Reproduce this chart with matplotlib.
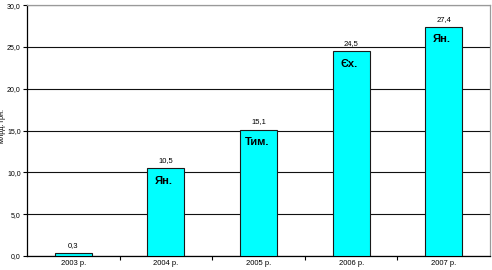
import matplotlib
matplotlib.use("Agg")
import matplotlib.pyplot as plt
from matplotlib.ticker import FuncFormatter, FixedLocator

categories = ["2003 р.", "2004 р.", "2005 р.", "2006 р.", "2007 р."]
values = [0.3, 10.5, 15.1, 24.5, 27.4]
inner_labels = ["", "Ян.", "Тим.", "Єх.", "Ян."]
yticks = [0, 5, 10, 15, 20, 25, 30]

plt.rcParams['font.family'] = ['Liberation Sans', 'DejaVu Sans']

fig = plt.figure(figsize=(4.92, 2.70), dpi=100)
ax = fig.add_axes([0.055, 0.052, 0.941, 0.929])

x = list(range(len(categories)))
ax.bar(x, values, width=0.4, color="#00FFFF", edgecolor="#1a1a1a", linewidth=0.8, zorder=3)

for xi, v in zip(x, values):
    ax.text(xi, v + 0.5, f"{v:.1f}".replace(".", ","), ha="center", va="bottom", fontsize=5.5, zorder=4)
for xi, v, lab in zip(x, values, inner_labels):
    if lab:
        ax.text(xi - 0.02, v - 0.9, lab, ha="center", va="top", fontsize=8, fontweight="bold", zorder=4)

ax.set_xlim(-0.5, len(categories) - 0.5)
ax.set_ylim(0, 30)
ax.set_yticks(yticks)
ax.yaxis.set_major_formatter(FuncFormatter(lambda v, p: f"{v:.1f}".replace(".", ",")))
ax.grid(axis="y", color="#111111", linewidth=0.8, zorder=0)

ax.set_xticks(x)
ax.set_xticklabels(categories)
ax.xaxis.set_minor_locator(FixedLocator([i + 0.5 for i in range(len(categories) - 1)]))
ax.tick_params(axis="x", which="major", length=0, labelsize=5.5, pad=3)
ax.tick_params(axis="x", which="minor", length=3, width=0.8, direction="out")
ax.tick_params(axis="y", length=3, width=0.8, direction="out", labelsize=5, pad=1.5)

ax.set_ylabel("млрд. грн.", fontsize=5.2)
ax.yaxis.set_label_coords(-0.046, 0.52)

for s in ["left", "bottom"]:
    ax.spines[s].set_color("black")
    ax.spines[s].set_linewidth(0.9)
for s in ["top", "right"]:
    ax.spines[s].set_color("#9a9a9a")
    ax.spines[s].set_linewidth(0.9)

fig.savefig("out.png", dpi=100)
